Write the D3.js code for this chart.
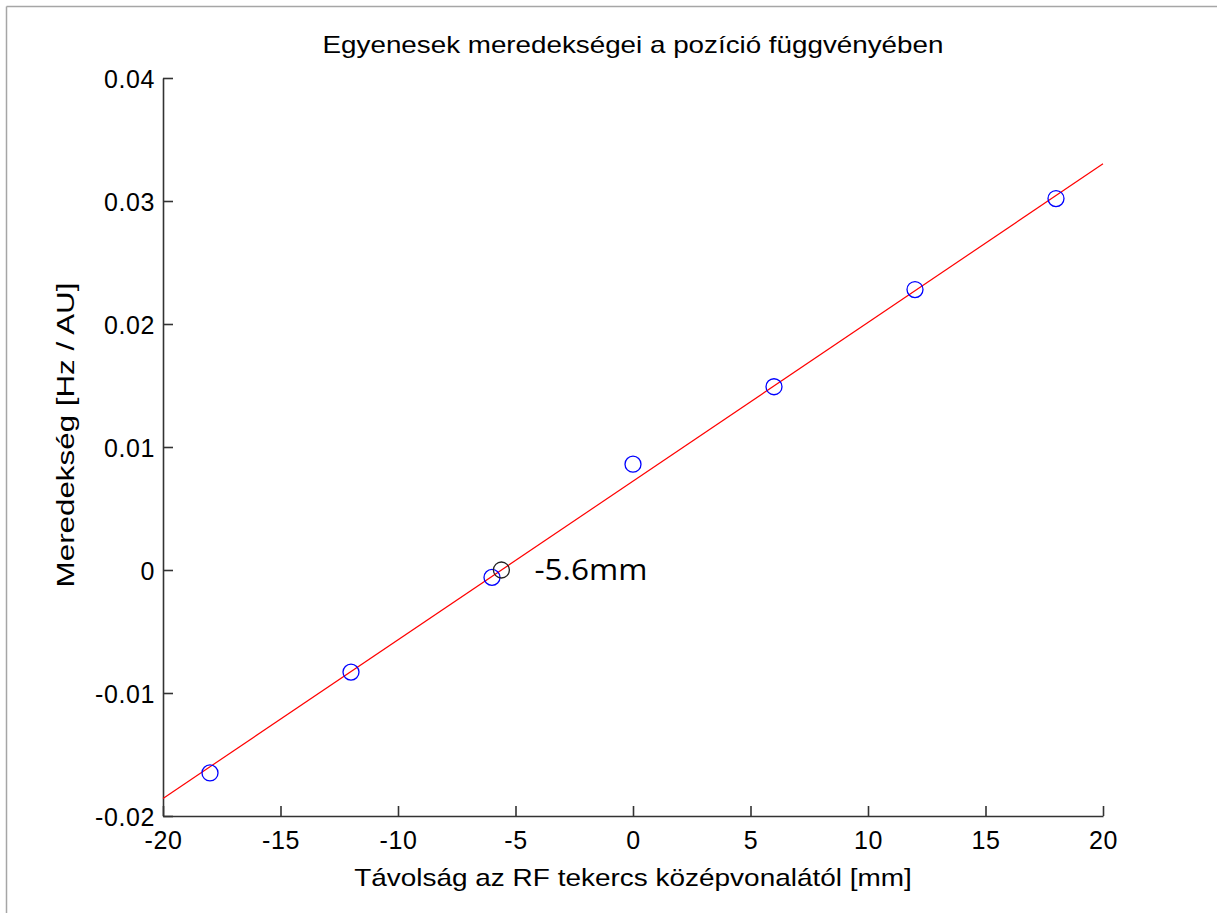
<!DOCTYPE html>
<html>
<head>
<meta charset="utf-8">
<script src="https://cdn.jsdelivr.net/npm/d3@7"></script>
<style>
  html, body { margin: 0; padding: 0; background: #fff; }
  svg { display: block; }
  text { font-family: Arial, "Liberation Sans", sans-serif; fill: #000; }
</style>
</head>
<body>
<svg id="chart" width="1217" height="913"></svg>
<script>
// Measured slopes versus distance from the RF coil centre line
const positions = [-18, -12, -6, 0, 6, 12, 18];          // mm
const slopes = [-0.0165, -0.0083, -0.0006, 0.0086, 0.0149, 0.0228, 0.0302]; // Hz / AU

// Linear fit of slope vs. position, and its zero crossing
const fitSlope = 0.00129;
const zeroCrossing = -5.6;                              // mm
const fitIntercept = -fitSlope * zeroCrossing;
const fitRange = [-20, 20];

const xTicks = [-20, -15, -10, -5, 0, 5, 10, 15, 20];
const yTicks = [-0.02, -0.01, 0, 0.01, 0.02, 0.03, 0.04];

const titleText = "Egyenesek meredekségei a pozíció függvényében";
const xLabelText = "Távolság az RF tekercs középvonalától [mm]";
const yLabelText = "Meredekség [Hz / AU]";
const markerText = "-5.6mm";

const svg = d3.select("#chart");
const W = 1217, H = 913;
const margin = { left: 163, right: W - 1103, top: 78, bottom: H - 816 };

const x = d3.scaleLinear().domain([-20, 20]).range([margin.left, W - margin.right]);
const y = d3.scaleLinear().domain([-0.02, 0.04]).range([H - margin.bottom, margin.top]);
const cx = (x(-20) + x(20)) / 2;

// Places a text at (px, py), optionally rotated, stretched horizontally to a given width
function wideText(str, px, py, size, width, anchor, rotate, family) {
  const t = svg.append("text").attr("font-size", size).attr("text-anchor", anchor).text(str);
  if (family) t.style("font-family", family);
  const natural = t.node().getComputedTextLength();
  const sx = width / natural;
  t.attr("transform", `translate(${px},${py}) rotate(${rotate || 0}) scale(${sx},1)`);
  return t;
}

// Figure frame (top and left edges)
svg.append("line").attr("x1", 6.5).attr("x2", W).attr("y1", 6.5).attr("y2", 6.5)
  .attr("stroke", "#a6a6a6").attr("stroke-width", 1.5);
svg.append("line").attr("x1", 6.5).attr("x2", 6.5).attr("y1", 6.5).attr("y2", H)
  .attr("stroke", "#a6a6a6").attr("stroke-width", 1.5);

const fmtY = v => v === 0 ? "0" : d3.format(".2f")(v).replace("\u2212", "-");

// Axes with ticks pointing into the plot area
const xAxis = d3.axisBottom(x).tickValues(xTicks).tickSizeInner(-10).tickSizeOuter(0)
  .tickFormat(d => String(d));
const yAxis = d3.axisLeft(y).tickValues(yTicks).tickSizeInner(-10).tickSizeOuter(0)
  .tickFormat(fmtY);

const gx = svg.append("g").attr("transform", `translate(0,${y(-0.02)})`).call(xAxis);
const gy = svg.append("g").attr("transform", `translate(${x(-20)},0)`).call(yAxis);

[gx, gy].forEach(g => {
  g.select(".domain").attr("stroke", "#333").attr("stroke-width", 1.6);
  g.selectAll(".tick line").attr("stroke", "#333").attr("stroke-width", 1.6);
  g.selectAll(".tick text").attr("font-size", 25).attr("fill", "#000")
    .attr("letter-spacing", 0.6)
    .style("font-family", "Arial, 'Liberation Sans', sans-serif");
});
gx.selectAll(".tick text").attr("y", 33).attr("dy", "0");
gy.selectAll(".tick text").attr("x", -8).attr("dy", "0.36em");

// Fitted line
svg.append("line")
  .attr("x1", x(fitRange[0])).attr("y1", y(fitSlope * fitRange[0] + fitIntercept))
  .attr("x2", x(fitRange[1])).attr("y2", y(fitSlope * fitRange[1] + fitIntercept))
  .attr("stroke", "#ff0000").attr("stroke-width", 1.2);

// Measured points
svg.append("g").selectAll("circle").data(positions).join("circle")
  .attr("cx", d => x(d))
  .attr("cy", (d, i) => y(slopes[i]))
  .attr("r", 8)
  .attr("fill", "none").attr("stroke", "#0000ff").attr("stroke-width", 1.3);

// Zero crossing marker and its label
svg.append("circle")
  .attr("cx", x(zeroCrossing)).attr("cy", y(0)).attr("r", 8)
  .attr("fill", "none").attr("stroke", "#222").attr("stroke-width", 1.3);
wideText(markerText, x(zeroCrossing) + 33, y(0) + 10, 29, 113, "start", 0,
  "'Open Sans', 'Noto Sans', sans-serif");

// Title and axis labels
wideText(titleText, cx, 53, 23, 621, "middle");
wideText(xLabelText, cx, 886, 24, 558, "middle");
wideText(yLabelText, 74, 435, 24, 305, "middle", -90);
</script>
</body>
</html>
